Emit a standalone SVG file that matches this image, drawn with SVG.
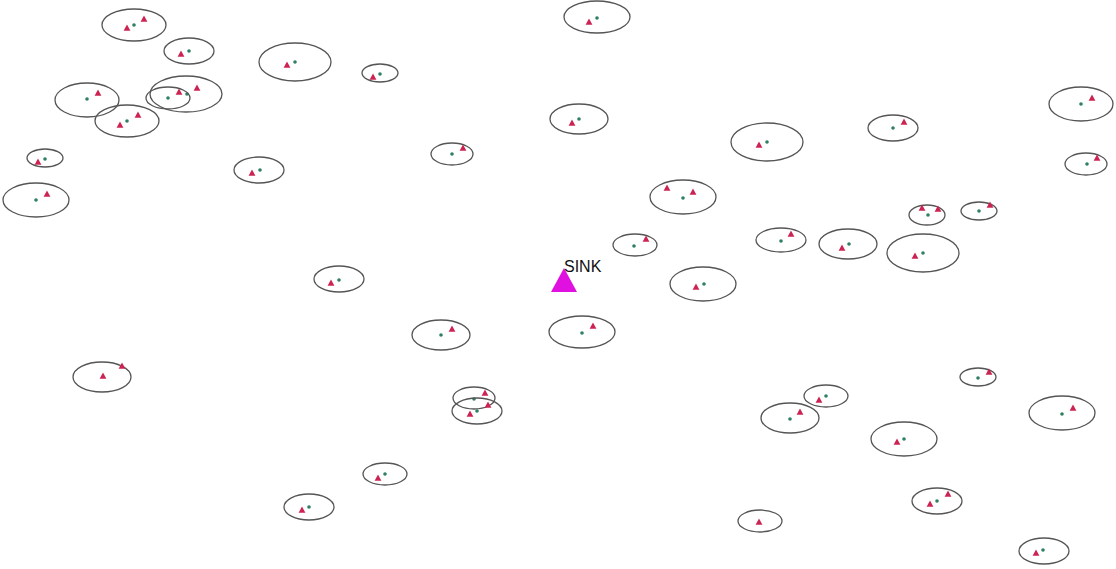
<svg xmlns="http://www.w3.org/2000/svg" xmlns:xlink="http://www.w3.org/1999/xlink" width="1116" height="569" viewBox="0 0 1116 569">
<style>
.c{fill:none;stroke:#555;stroke-width:1.3}
.t{fill:#cc2352}
.d{fill:#2f7f62}
.lbl{font-family:"Liberation Sans",Arial,sans-serif;font-size:16px;fill:#111}
</style>
<defs>
<path id="tri" d="M0,-3.4 L3.4,2.7 L-3.4,2.7 Z"/>
<circle id="dot" r="1.8"/>
</defs>
<rect width="1116" height="569" fill="#fff"/>
<g id="sink">
<polygon points="564,268 577,292 551,292" fill="#e010e0"/>
<text class="lbl" x="564" y="272">SINK</text>
</g>
<g id="nodes">
<g id="n1"><ellipse class="c" cx="134" cy="25" rx="32" ry="16"/><use href="#tri" class="t" x="127" y="28"/><use href="#tri" class="t" x="144" y="19"/><use href="#dot" class="d" x="134" y="25"/></g>
<g id="n2"><ellipse class="c" cx="189" cy="51" rx="25" ry="13"/><use href="#tri" class="t" x="181" y="54"/><use href="#dot" class="d" x="189" y="51"/></g>
<g id="n3"><ellipse class="c" cx="87" cy="100" rx="32" ry="17"/><use href="#tri" class="t" x="98" y="93"/><use href="#dot" class="d" x="87" y="99"/></g>
<g id="n4"><ellipse class="c" cx="186" cy="94" rx="36" ry="18"/><use href="#tri" class="t" x="179" y="92"/><use href="#tri" class="t" x="197" y="88"/><use href="#dot" class="d" x="187" y="94"/></g>
<g id="n5"><ellipse class="c" cx="168" cy="98" rx="22" ry="11"/><use href="#dot" class="d" x="168" y="98"/></g>
<g id="n6"><ellipse class="c" cx="127" cy="121" rx="32" ry="16"/><use href="#tri" class="t" x="120" y="125"/><use href="#tri" class="t" x="138" y="115"/><use href="#dot" class="d" x="127" y="121"/></g>
<g id="n7"><ellipse class="c" cx="45" cy="158" rx="18" ry="9"/><use href="#tri" class="t" x="38" y="162"/><use href="#dot" class="d" x="45" y="159"/></g>
<g id="n8"><ellipse class="c" cx="36" cy="200" rx="33" ry="17"/><use href="#tri" class="t" x="47" y="194"/><use href="#dot" class="d" x="36" y="200"/></g>
<g id="n9"><ellipse class="c" cx="295" cy="62" rx="36" ry="19"/><use href="#tri" class="t" x="287" y="65"/><use href="#dot" class="d" x="295" y="62"/></g>
<g id="n10"><ellipse class="c" cx="380" cy="73" rx="18" ry="9"/><use href="#tri" class="t" x="373" y="77"/><use href="#dot" class="d" x="380" y="74"/></g>
<g id="n11"><ellipse class="c" cx="259" cy="170" rx="25" ry="13"/><use href="#tri" class="t" x="252" y="173"/><use href="#dot" class="d" x="260" y="170"/></g>
<g id="n12"><ellipse class="c" cx="452" cy="154" rx="21" ry="11"/><use href="#tri" class="t" x="463" y="148"/><use href="#dot" class="d" x="452" y="154"/></g>
<g id="n13"><ellipse class="c" cx="597" cy="17" rx="33" ry="16"/><use href="#tri" class="t" x="589" y="22"/><use href="#dot" class="d" x="597" y="18"/></g>
<g id="n14"><ellipse class="c" cx="579" cy="119" rx="29" ry="15"/><use href="#tri" class="t" x="572" y="123"/><use href="#dot" class="d" x="579" y="119"/></g>
<g id="n15"><ellipse class="c" cx="767" cy="142" rx="36" ry="19"/><use href="#tri" class="t" x="759" y="145"/><use href="#dot" class="d" x="767" y="142"/></g>
<g id="n16"><ellipse class="c" cx="683" cy="197" rx="33" ry="17"/><use href="#tri" class="t" x="667" y="188"/><use href="#tri" class="t" x="693" y="192"/><use href="#dot" class="d" x="683" y="198"/></g>
<g id="n17"><ellipse class="c" cx="1081" cy="104" rx="32" ry="17"/><use href="#tri" class="t" x="1092" y="98"/><use href="#dot" class="d" x="1081" y="104"/></g>
<g id="n18"><ellipse class="c" cx="893" cy="128" rx="25" ry="13"/><use href="#tri" class="t" x="904" y="122"/><use href="#dot" class="d" x="893" y="128"/></g>
<g id="n19"><ellipse class="c" cx="1086" cy="164" rx="21" ry="11"/><use href="#tri" class="t" x="1097" y="158"/><use href="#dot" class="d" x="1087" y="164"/></g>
<g id="n20"><ellipse class="c" cx="927" cy="215" rx="18" ry="10"/><use href="#tri" class="t" x="922" y="208"/><use href="#tri" class="t" x="938" y="209"/><use href="#dot" class="d" x="928" y="215"/></g>
<g id="n21"><ellipse class="c" cx="979" cy="211" rx="18" ry="9"/><use href="#tri" class="t" x="990" y="205"/><use href="#dot" class="d" x="979" y="211"/></g>
<g id="n22"><ellipse class="c" cx="848" cy="244" rx="29" ry="15"/><use href="#tri" class="t" x="842" y="248"/><use href="#dot" class="d" x="849" y="244"/></g>
<g id="n23"><ellipse class="c" cx="923" cy="253" rx="36" ry="19"/><use href="#tri" class="t" x="915" y="256"/><use href="#dot" class="d" x="923" y="253"/></g>
<g id="n24"><ellipse class="c" cx="635" cy="245" rx="22" ry="11"/><use href="#tri" class="t" x="646" y="239"/><use href="#dot" class="d" x="634" y="246"/></g>
<g id="n25"><ellipse class="c" cx="703" cy="284" rx="33" ry="17"/><use href="#tri" class="t" x="696" y="287"/><use href="#dot" class="d" x="704" y="284"/></g>
<g id="n26"><ellipse class="c" cx="582" cy="332" rx="33" ry="16"/><use href="#tri" class="t" x="593" y="326"/><use href="#dot" class="d" x="582" y="333"/></g>
<g id="n27"><ellipse class="c" cx="781" cy="240" rx="25" ry="12"/><use href="#tri" class="t" x="791" y="234"/><use href="#dot" class="d" x="781" y="241"/></g>
<g id="n28"><ellipse class="c" cx="339" cy="279" rx="25" ry="13"/><use href="#tri" class="t" x="331" y="283"/><use href="#dot" class="d" x="339" y="280"/></g>
<g id="n29"><ellipse class="c" cx="441" cy="335" rx="29" ry="15"/><use href="#tri" class="t" x="452" y="329"/><use href="#dot" class="d" x="441" y="335"/></g>
<g id="n30"><ellipse class="c" cx="102" cy="377" rx="29" ry="15"/><use href="#tri" class="t" x="103" y="376"/><use href="#tri" class="t" x="122" y="366"/></g>
<g id="n31"><ellipse class="c" cx="474" cy="398" rx="21" ry="11"/><use href="#tri" class="t" x="485" y="393"/><use href="#dot" class="d" x="474" y="399"/></g>
<g id="n32"><ellipse class="c" cx="477" cy="411" rx="25" ry="13"/><use href="#tri" class="t" x="470" y="414"/><use href="#tri" class="t" x="488" y="405"/><use href="#dot" class="d" x="477" y="411"/></g>
<g id="n33"><ellipse class="c" cx="385" cy="474" rx="22" ry="11"/><use href="#tri" class="t" x="378" y="478"/><use href="#dot" class="d" x="385" y="474"/></g>
<g id="n34"><ellipse class="c" cx="309" cy="507" rx="25" ry="13"/><use href="#tri" class="t" x="302" y="510"/><use href="#dot" class="d" x="309" y="507"/></g>
<g id="n35"><ellipse class="c" cx="978" cy="377" rx="18" ry="9"/><use href="#tri" class="t" x="989" y="372"/><use href="#dot" class="d" x="978" y="378"/></g>
<g id="n36"><ellipse class="c" cx="826" cy="396" rx="22" ry="11"/><use href="#tri" class="t" x="819" y="400"/><use href="#dot" class="d" x="826" y="396"/></g>
<g id="n37"><ellipse class="c" cx="790" cy="418" rx="29" ry="15"/><use href="#tri" class="t" x="800" y="412"/><use href="#dot" class="d" x="790" y="419"/></g>
<g id="n38"><ellipse class="c" cx="1062" cy="413" rx="33" ry="17"/><use href="#tri" class="t" x="1073" y="408"/><use href="#dot" class="d" x="1062" y="414"/></g>
<g id="n39"><ellipse class="c" cx="904" cy="439" rx="33" ry="17"/><use href="#tri" class="t" x="897" y="442"/><use href="#dot" class="d" x="904" y="439"/></g>
<g id="n40"><ellipse class="c" cx="937" cy="501" rx="25" ry="13"/><use href="#tri" class="t" x="930" y="504"/><use href="#tri" class="t" x="948" y="494"/><use href="#dot" class="d" x="937" y="501"/></g>
<g id="n41"><ellipse class="c" cx="760" cy="521" rx="22" ry="11"/><use href="#tri" class="t" x="759" y="522"/></g>
<g id="n42"><ellipse class="c" cx="1044" cy="551" rx="25" ry="13"/><use href="#tri" class="t" x="1036" y="553"/><use href="#dot" class="d" x="1043" y="550"/></g>
</g>
<g id="connectors"/>
</svg>
